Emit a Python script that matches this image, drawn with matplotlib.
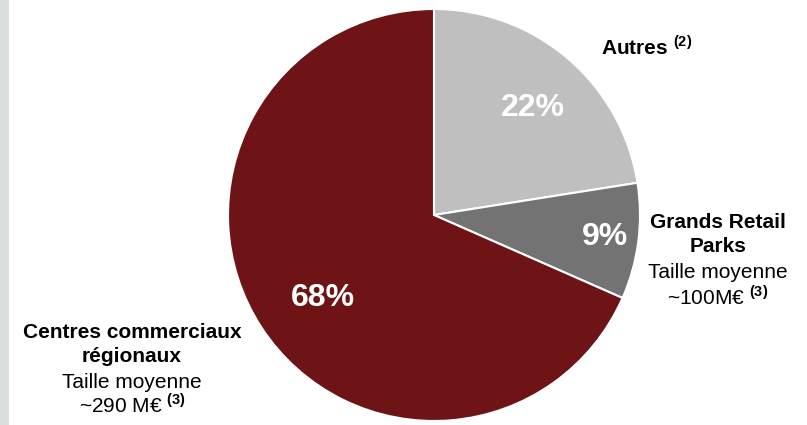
import matplotlib
matplotlib.use("Agg")
import matplotlib.pyplot as plt
from matplotlib.patches import Rectangle

plt.rcParams['font.family'] = ['Liberation Sans', 'DejaVu Sans']
plt.rcParams['mathtext.fontset'] = 'custom'
plt.rcParams['mathtext.rm'] = 'Liberation Sans'
plt.rcParams['mathtext.bf'] = 'Liberation Sans:bold'

# Data (slice sizes; labels as printed)
categories = ["Autres", "Grands Retail Parks", "Centres commerciaux régionaux"]
shares = [22.5, 9.1, 68.4]
pct_labels = ["22%", "9%", "68%"]
colors = ["#bfbfbf", "#737373", "#6e1416"]

W, H = 807, 425
fig = plt.figure(figsize=(W / 100, H / 100), dpi=100)
fig.patch.set_facecolor("white")
fig.patches.append(Rectangle((0, 0), 9 / W, 1, transform=fig.transFigure,
                             facecolor="#d9e0dc", edgecolor="none"))

cx, cy, r = 434, 215, 206
ax = fig.add_axes([(cx - r) / W, (H - cy - r) / H, 2 * r / W, 2 * r / H])
ax.pie(shares, colors=colors, startangle=90, counterclock=False,
       wedgeprops=dict(edgecolor="white", linewidth=1.5))
ax.set_xlim(-1, 1)
ax.set_ylim(-1, 1)
ax.set_aspect("equal")
ax.axis("off")


def d(px, py):
    return ((px - cx) / r, (cy - py) / r)


pct_pos = [d(533, 108), d(605, 237), d(323, 298)]
for lab, pos in zip(pct_labels, pct_pos):
    ax.text(*pos, lab, color="white", fontsize=23, fontweight="bold",
            ha="center", va="center")

fs = 15
sup = r"$^{\mathbf{(%s)}}$"
# Autres
ax.text(*d(647, 47), "Autres " + sup % "2", fontsize=fs, fontweight="bold",
        ha="center", va="center", clip_on=False)

# Grands Retail Parks
x1 = 718
ax.text(*d(x1, 222), "Grands Retail", fontsize=fs, fontweight="bold",
        ha="center", va="center", clip_on=False)
ax.text(*d(x1, 247), "Parks", fontsize=fs, fontweight="bold",
        ha="center", va="center", clip_on=False)
ax.text(*d(x1, 273), "Taille moyenne", fontsize=fs,
        ha="center", va="center", clip_on=False)
ax.text(*d(x1, 297), "~100M€ " + sup % "3", fontsize=fs,
        ha="center", va="center", clip_on=False)

# Centres commerciaux régionaux
x2 = 132
ax.text(*d(x2, 332), "Centres commerciaux", fontsize=fs, fontweight="bold",
        ha="center", va="center", clip_on=False)
ax.text(*d(x2, 357), "régionaux", fontsize=fs, fontweight="bold",
        ha="center", va="center", clip_on=False)
ax.text(*d(x2, 382), "Taille moyenne", fontsize=fs,
        ha="center", va="center", clip_on=False)
ax.text(*d(x2, 405), "~290 M€ " + sup % "3", fontsize=fs,
        ha="center", va="center", clip_on=False)

fig.savefig("out.png", dpi=100, facecolor="white")
